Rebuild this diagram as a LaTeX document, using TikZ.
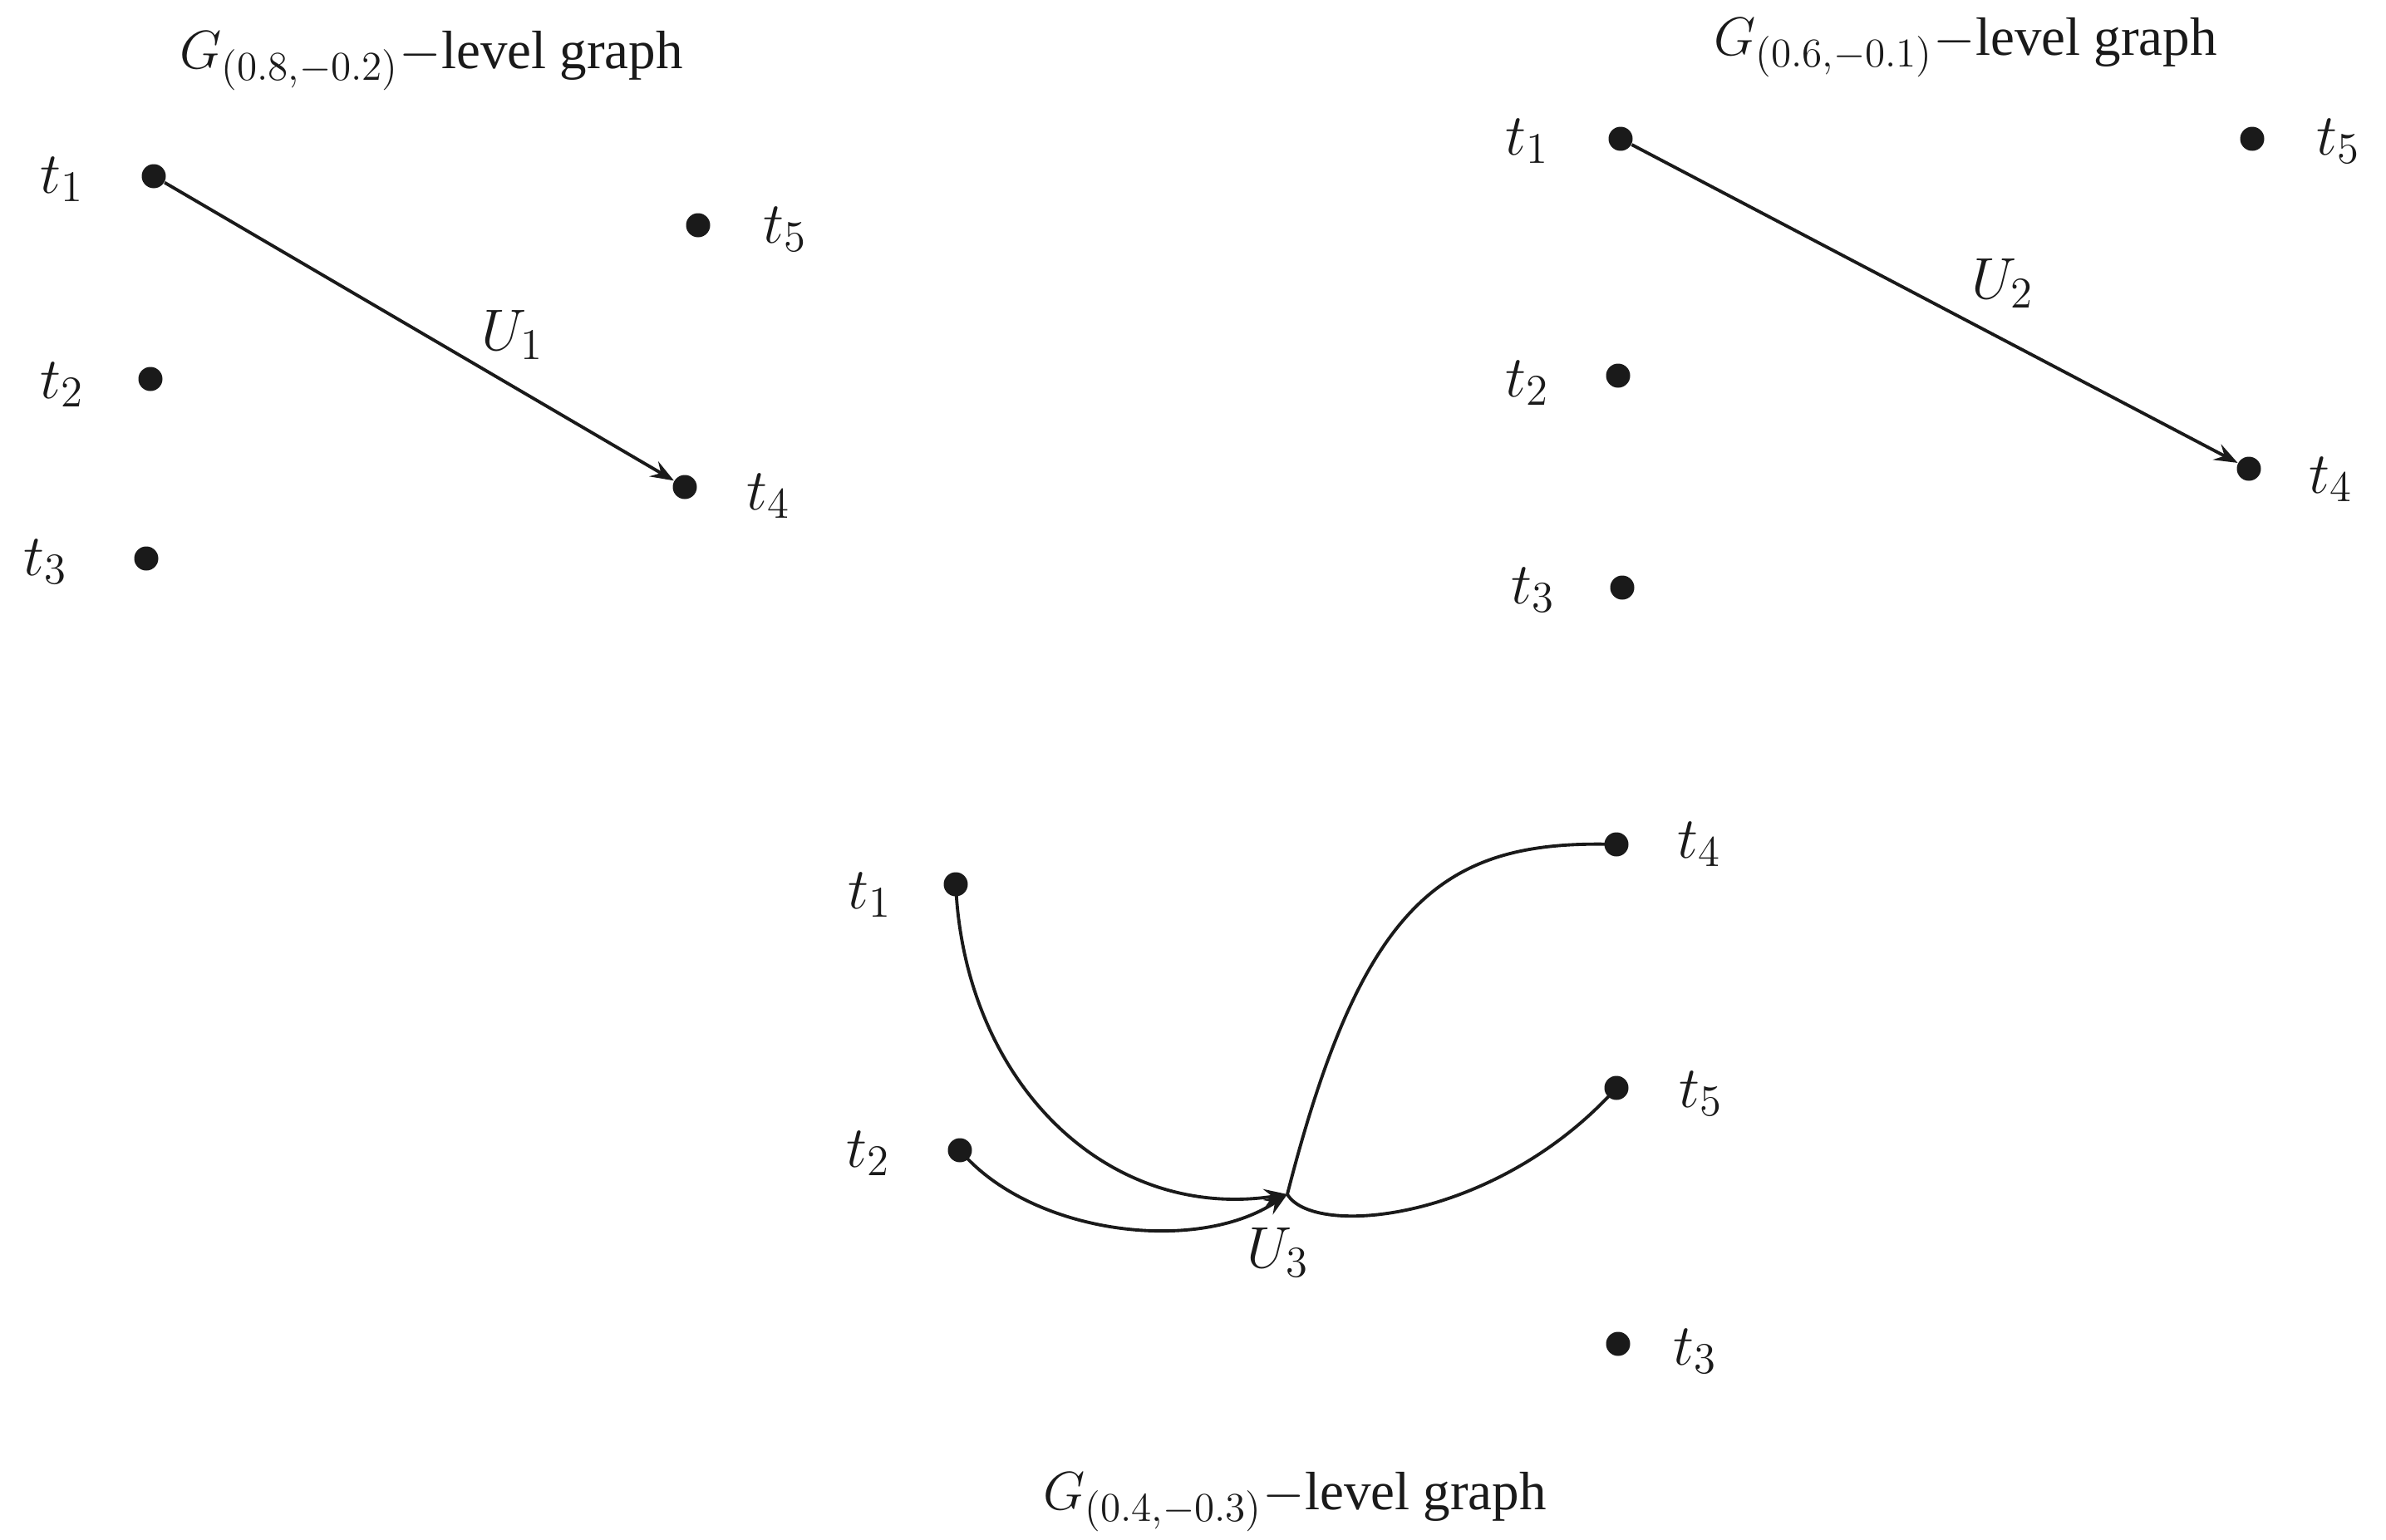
\RequirePackage{fix-cm}
\documentclass[tikz,border=0pt]{standalone}
\usepackage[no-math]{fontspec}
\setmainfont{Liberation Serif}
\DeclareMathSizes{20}{20}{15}{11}
\DeclareMathSizes{18.5}{18.5}{14}{10}
\usetikzlibrary{arrows.meta}
\definecolor{ink}{HTML}{1A1A1A}
\tikzset{
  dot/.style={circle, fill=ink, inner sep=0pt, minimum size=2.9mm},
  lbl/.style={font=\fontsize{20}{24}\selectfont, inner sep=0pt, text=ink},
  ttl/.style={font=\fontsize{18.5}{22}\selectfont, inner sep=0pt, anchor=base, text=ink},
  edge/.style={draw=ink, line width=1.1pt},
  arr/.style={edge, -{Stealth[length=2.8mm,width=2.1mm,inset=1mm]}},
}
\begin{document}
\begin{tikzpicture}
\useasboundingbox (0,0) rectangle (28.71,-18.53);

% ---------- top-left panel ----------
\node[ttl] (T1) at (5.19,-0.82) {$G_{(0.8,-0.2)}{-}$level graph};
\node[dot] (a1) at (1.85,-2.12) {};
\node[dot] (a5) at (8.40,-2.71) {};
\node[dot] (a2) at (1.81,-4.56) {};
\node[dot] (a4) at (8.24,-5.86) {};
\node[dot] (a3) at (1.76,-6.72) {};
\node[lbl] (la1) at (0.75,-2.16) {$t_1$};
\node[lbl] (la5) at (9.45,-2.76) {$t_5$};
\node[lbl] (la2) at (0.75,-4.63) {$t_2$};
\node[lbl] (la4) at (9.25,-5.97) {$t_4$};
\node[lbl] (la3) at (0.55,-6.76) {$t_3$};
\node[lbl] (U1) at (6.17,-4.03) {$U_1$};
\draw[arr] (a1) -- (a4);

% ---------- top-right panel ----------
\node[ttl] (T2) at (23.65,-0.66) {$G_{(0.6,-0.1)}{-}$level graph};
\node[dot] (b1) at (19.50,-1.67) {};
\node[dot] (b5) at (27.10,-1.67) {};
\node[dot] (b2) at (19.47,-4.52) {};
\node[dot] (b4) at (27.06,-5.64) {};
\node[dot] (b3) at (19.52,-7.07) {};
\node[lbl] (lb1) at (18.38,-1.70) {$t_1$};
\node[lbl] (lb5) at (28.14,-1.70) {$t_5$};
\node[lbl] (lb2) at (18.38,-4.61) {$t_2$};
\node[lbl] (lb4) at (28.05,-5.77) {$t_4$};
\node[lbl] (lb3) at (18.45,-7.10) {$t_3$};
\node[lbl] (U2) at (24.10,-3.41) {$U_2$};
\draw[arr] (b1) -- (b4);

% ---------- bottom panel ----------
\node[ttl] (T3) at (15.58,-18.16) {$G_{(0.4,-0.3)}{-}$level graph};
\node[dot] (c1) at (11.50,-10.64) {};
\node[dot] (c4) at (19.45,-10.16) {};
\node[dot] (c5) at (19.45,-13.09) {};
\node[dot] (c2) at (11.55,-13.84) {};
\node[dot] (c3) at (19.47,-16.17) {};
\node[lbl] (lc1) at (10.47,-10.77) {$t_1$};
\node[lbl] (lc4) at (20.45,-10.16) {$t_4$};
\node[lbl] (lc5) at (20.47,-13.16) {$t_5$};
\node[lbl] (lc2) at (10.45,-13.88) {$t_2$};
\node[lbl] (lc3) at (20.40,-16.26) {$t_3$};
\node[lbl] (U3) at (15.38,-15.07) {$U_3$};
\coordinate (J) at (15.49,-14.37);
\draw[arr] (c1.center) .. controls (11.60,-13.00) and (13.30,-14.70) .. (J);
\draw[arr] (c2.center) .. controls (12.40,-14.85) and (14.40,-15.10) .. (J);
\draw[edge] (J) .. controls (16.40,-10.80) and (17.40,-10.10) .. (c4.center);
\draw[edge] (J) .. controls (15.80,-14.90) and (18.00,-14.70) .. (c5.center);
\end{tikzpicture}
\end{document}
